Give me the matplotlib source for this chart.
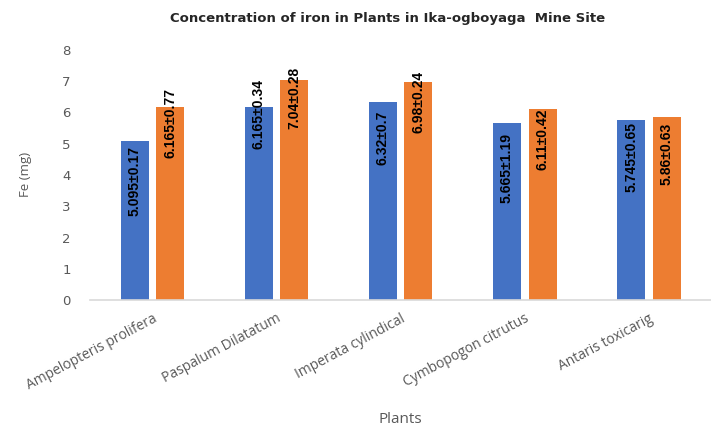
import matplotlib
matplotlib.use("Agg")
import matplotlib.pyplot as plt
import numpy as np

categories = ["Ampelopteris prolifera", "Paspalum Dilatatum", "Imperata cylindical",
              "Cymbopogon citrutus", "Antaris toxicarig"]
series1 = [5.095, 6.165, 6.32, 5.665, 5.745]
series2 = [6.165, 7.04, 6.98, 6.11, 5.86]
labels1 = ["5.095±0.17", "6.165±0.34", "6.32±0.7", "5.665±1.19", "5.745±0.65"]
labels2 = ["6.165±0.77", "7.04±0.28", "6.98±0.24", "6.11±0.42", "5.86±0.63"]
yticks = [0, 1, 2, 3, 4, 5, 6, 7, 8]

# label placement tweaks (in points, relative to bar top)
shift1 = [-4, 20, -6, -7, -1]
shift2 = [14, 9, 8, 0, -4]

fig = plt.figure(figsize=(7.11, 4.33), dpi=100)
ax = fig.add_axes([0.127, 0.307, 0.873, 0.578])

x = np.arange(len(categories))
w = 0.225
off = 0.143
ax.bar(x - off, series1, w, color="#4472C4")
ax.bar(x + off, series2, w, color="#ED7D31")

lab_font = dict(family=["Liberation Sans", "DejaVu Sans"], fontsize=10,
                fontweight="bold", color="black")
for xi, v, t, s in zip(x - off, series1, labels1, shift1):
    ax.annotate(t, (xi, v), xytext=(0, s), textcoords="offset points",
                rotation=90, ha="center", va="top", **lab_font)
for xi, v, t, s in zip(x + off, series2, labels2, shift2):
    ax.annotate(t, (xi, v), xytext=(0, s), textcoords="offset points",
                rotation=90, ha="center", va="top", **lab_font)

ax.set_xlim(-0.5, len(categories) - 0.5)
ax.set_ylim(0, 8)
ax.set_yticks(yticks)
ax.set_xticks(x)
ax.set_xticklabels(categories, rotation=28, ha="right", rotation_mode="anchor",
                   fontsize=10, color="#595959", family="Open Sans")
ax.tick_params(axis="y", labelsize=9.5, labelcolor="#595959", length=0, pad=14)
ax.tick_params(axis="x", length=0, pad=8)
for s in ["top", "right", "left"]:
    ax.spines[s].set_visible(False)
ax.spines["bottom"].set_color("#D9D9D9")
ax.spines["bottom"].set_linewidth(1.2)

ax.set_xlabel("Plants", fontsize=11, color="#595959", family="Open Sans", labelpad=14)
ax.set_ylabel("Fe (mg)", fontsize=9.5, color="#595959", family="Open Sans", labelpad=22)

fig.text(0.545, 0.958, "Concentration of iron in Plants in Ika-ogboyaga  Mine Site",
         ha="center", va="center", fontsize=9.5, fontweight="bold", color="#262626")

fig.savefig("out.png", dpi=100)
